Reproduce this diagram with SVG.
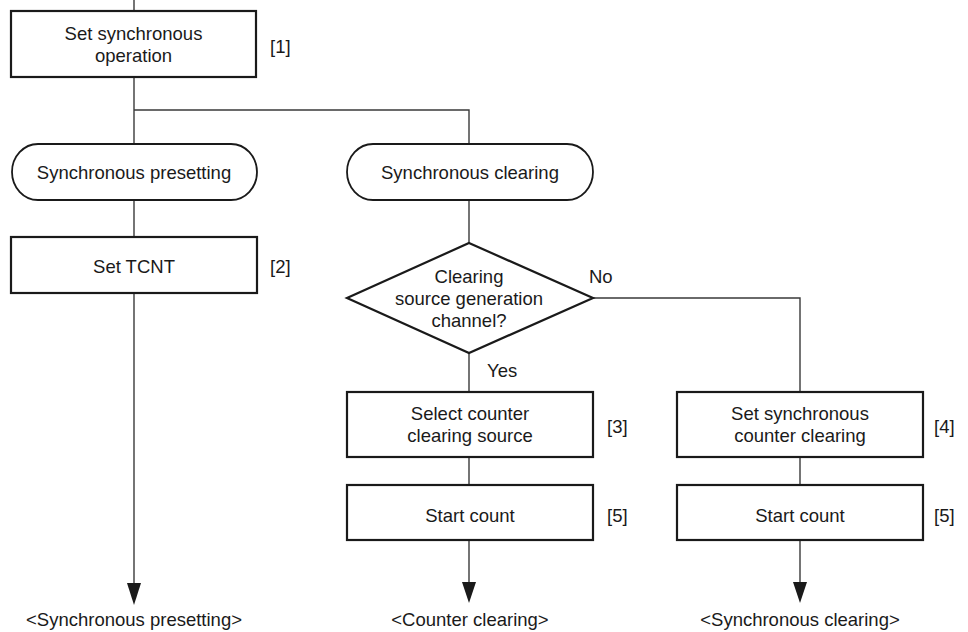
<svg xmlns="http://www.w3.org/2000/svg" width="968" height="632" viewBox="0 0 968 632">
  <defs>
    <style>
      .box { fill: #fff; stroke: #1a1a1a; stroke-width: 2.2; }
      .term { fill: #fff; stroke: #1a1a1a; stroke-width: 1.8; }
      .line { fill: none; stroke: #3a3a3a; stroke-width: 1.4; }
      .head { fill: #1a1a1a; stroke: none; }
      text { font-family: "Liberation Sans", Arial, sans-serif; font-size: 18.5px; fill: #1a1a1a; }
      .c { text-anchor: middle; }
    </style>
  </defs>

  <!-- connectors -->
  <g id="connectors">
    <path class="line" d="M134 0 V11"/>
    <path class="line" d="M134 77 V144"/>
    <path class="line" d="M134 110 H469 V144"/>
    <path class="line" d="M134 200 V237"/>
    <path class="line" d="M134 293 V584"/>
    <polygon class="head" points="127,583 141,583 134,605"/>
    <path class="line" d="M469 200 V243"/>
    <path class="line" d="M469 353 V392"/>
    <path class="line" d="M593 298 H800 V392"/>
    <path class="line" d="M469 457 V485"/>
    <path class="line" d="M800 457 V485"/>
    <path class="line" d="M469 540 V583"/>
    <polygon class="head" points="462,582 476,582 469,603"/>
    <path class="line" d="M800 540 V583"/>
    <polygon class="head" points="793,582 807,582 800,603"/>
    <text x="589" y="283">No</text>
    <text x="487" y="377">Yes</text>
  </g>

  <!-- [1] set synchronous operation -->
  <g id="set-sync-op">
    <rect class="box" x="11" y="11" width="245" height="66"/>
    <text class="c" x="133.5" y="39.5">Set synchronous</text>
    <text class="c" x="133.5" y="62">operation</text>
    <text x="270" y="53">[1]</text>
  </g>

  <!-- synchronous presetting branch -->
  <g id="sync-presetting">
    <rect class="term" x="12" y="144" width="245" height="56" rx="26" ry="28"/>
    <text class="c" x="134" y="179">Synchronous presetting</text>
  </g>

  <g id="set-tcnt">
    <rect class="box" x="11" y="237" width="246" height="56"/>
    <text class="c" x="134" y="273">Set TCNT</text>
    <text x="270" y="273">[2]</text>
  </g>

  <!-- synchronous clearing branch -->
  <g id="sync-clearing">
    <rect class="term" x="347" y="144" width="246" height="56" rx="26" ry="28"/>
    <text class="c" x="470" y="179">Synchronous clearing</text>
  </g>

  <g id="decision">
    <polygon class="box" points="469,243 593,298 469,353 347,298"/>
    <text class="c" x="469" y="283">Clearing</text>
    <text class="c" x="469" y="305">source generation</text>
    <text class="c" x="469" y="327">channel?</text>
  </g>

  <g id="select-source">
    <rect class="box" x="347" y="392" width="246" height="65"/>
    <text class="c" x="470" y="420">Select counter</text>
    <text class="c" x="470" y="442">clearing source</text>
    <text x="607" y="433">[3]</text>
  </g>

  <g id="set-sync-clear">
    <rect class="box" x="677" y="392" width="246" height="65"/>
    <text class="c" x="800" y="420">Set synchronous</text>
    <text class="c" x="800" y="442">counter clearing</text>
    <text x="934" y="433">[4]</text>
  </g>

  <g id="start-count-a">
    <rect class="box" x="347" y="485" width="246" height="55"/>
    <text class="c" x="470" y="522">Start count</text>
    <text x="607" y="522">[5]</text>
  </g>

  <g id="start-count-b">
    <rect class="box" x="677" y="485" width="246" height="55"/>
    <text class="c" x="800" y="522">Start count</text>
    <text x="934" y="522">[5]</text>
  </g>

  <!-- end labels -->
  <g id="end-presetting">
    <text class="c" x="134" y="626">&lt;Synchronous presetting&gt;</text>
  </g>
  <g id="end-counter-clearing">
    <text class="c" x="470" y="626">&lt;Counter clearing&gt;</text>
  </g>
  <g id="end-sync-clearing">
    <text class="c" x="800" y="626">&lt;Synchronous clearing&gt;</text>
  </g>
</svg>
